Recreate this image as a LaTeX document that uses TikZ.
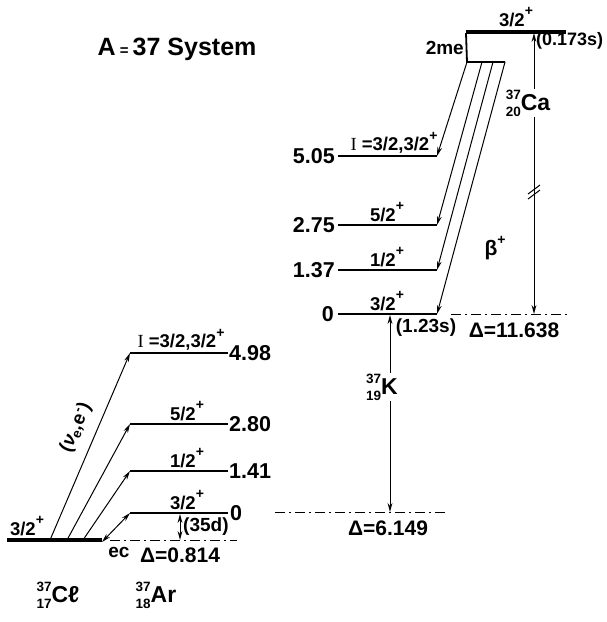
\documentclass[tikz,border=0pt]{standalone}
\usepackage{fontspec}
\setmainfont{Liberation Sans}
\newfontfamily\serifI{Liberation Serif}
\usetikzlibrary{arrows.meta,positioning}
\newcommand{\nuclide}[3]{\mbox{\fontsize{13.5}{13.5}\selectfont
  \rlap{\raisebox{11.5pt}{#1}}\raisebox{-5.5pt}{#2}}#3}
\newcommand{\parplus}{\raisebox{0.55em}{\fontsize{14}{14}\selectfont +}}
\tikzset{
 isb level/.style={line width=2.3pt},
 isb gs level/.style={line width=3.6pt},
 isb bracket/.style={line width=1.8pt},
 isb decay/.style={line width=1pt},
 isb mass/.style={line width=1pt,dash pattern=on 10pt off 4pt on 2pt off 4pt},
 isb spin/.style={font=\fontsize{18.5}{18.5}\selectfont\bfseries,inner sep=0pt},
 isb energy/.style={font=\fontsize{21.5}{21.5}\selectfont\bfseries,inner sep=1pt},
 isb note/.style={font=\fontsize{19}{19}\selectfont\bfseries,inner sep=1pt},
 isb delta/.style={font=\fontsize{21}{21}\selectfont\bfseries,inner sep=1pt},
 isb nuclide/.style={font=\fontsize{23}{23}\selectfont\bfseries,fill=white,inner sep=1pt}
}
\begin{document}
\begin{tikzpicture}[x=1pt,y=-1pt,>={Stealth[length=9pt,width=4.8pt]}]
 \useasboundingbox (0,0) rectangle (606,622);
 \node[font=\fontsize{25}{25}\selectfont\bfseries] (title) at (177,49)
   {A\,{\fontsize{15}{15}\selectfont =}\,37 System};

 % 37Cl and 37Ar
 \coordinate (cla) at (7,540);
 \coordinate (clb) at (102,540);
 \foreach \n/\y in {0/513,1/471,2/424,3/353} {
   \coordinate (ar\n a) at (130,\y);
   \coordinate (ar\n b) at (228,\y);
   \draw[isb level] (ar\n a)--(ar\n b);
 }
 \draw[isb gs level] (cla)--(clb);
 \coordinate (ec1) at (50,540);
 \coordinate (ec2) at (67,540);
 \coordinate (ec3) at (83,540);
 \coordinate (arqa) at (110,540);
 \coordinate (arqb) at (237,540);
 \coordinate (arh) at (180,514);
 \coordinate (arl) at (180,540);

 \draw[isb decay,->] (ec1)--(ar3a);
 \draw[isb decay,->] (ec2)--(ar2a);
 \draw[isb decay,->] (ec3)--(ar1a);
 \draw[isb decay,<->] ([yshift=-2pt]clb)--(ar0a);
 \draw[isb mass] (arqa)--(arqb);
 \draw[isb decay,<->] (arh)--(arl);

 \node[isb spin] (clspin) at (27,526) {3/2\parplus};
 \node[isb spin] (arspin3) at (181,340) {{\serifI\mdseries I} =3/2,3/2\parplus};
 \node[isb spin] (arspin2) at (187,411) {5/2\parplus};
 \node[isb spin] (arspin1) at (187,458) {1/2\parplus};
 \node[isb spin] (arspin0) at (187,500) {3/2\parplus};
 \node[isb energy,right=0pt of ar3b] (are3) {4.98};
 \node[isb energy,right=0pt of ar2b] (are2) {2.80};
 \node[isb energy,right=0pt of ar1b] (are1) {1.41};
 \node[isb energy,right=1pt of ar0b] (are0) {0};
 \node[isb note,anchor=west] (arlife) at (182,527) {(35d)};
 \node[isb note] (ec) at (119,552) {ec};
 \node[isb delta] (ardelta) at (180,555) {Δ=0.814};
 \node[isb note,rotate=66.6] (nue) at (76,428) {(\textit{ν}\textsubscript{e},e\textsuperscript{-})};
 \node[isb nuclide,fill=none] (cl) at (58,595) {\nuclide{37}{17}{Cℓ}};
 \node[isb nuclide,fill=none] (ar) at (156,595) {\nuclide{37}{18}{Ar}};

 % 37K and 37Ca
 \foreach \n/\y in {0/314,1/270,2/225,3/156} {
   \coordinate (k\n a) at (338,\y);
   \coordinate (k\n b) at (437,\y);
   \draw[isb level] (k\n a)--(k\n b);
 }
 \coordinate (caa) at (466,32);
 \coordinate (cab) at (566,32);
 \draw[isb gs level] (caa)--(cab);
 \coordinate (me1) at (467,62);
 \coordinate (me2) at (482,62);
 \coordinate (me3) at (493,62);
 \coordinate (me4) at (505,62);
 \draw[isb bracket] ([yshift=-1pt]caa)--(me1)--(me4);
 \draw[isb decay,->] (me1)--(k3b);
 \draw[isb decay,->] (me2)--(k2b);
 \draw[isb decay,->] (me3)--(k1b);
 \draw[isb decay,->] (me4)--(k0b);

 \coordinate (cah) at (534,33);
 \coordinate (cal) at (534,314);
 \coordinate (kh) at (390,315);
 \coordinate (kl) at (390,512);
 \coordinate (caqa) at (451,314);
 \coordinate (caqb) at (568,314);
 \coordinate (kqa) at (275,512);
 \coordinate (kqb) at (448,512);
 \draw[isb mass] (caqa)--(caqb);
 \draw[isb mass] (kqa)--(kqb);
 \draw[isb decay,<->] (cah)--(cal);
 \draw[isb decay,<->] (kh)--(kl);
 \draw[isb decay] (528,199)--(540,190);
 \draw[isb decay] (528,194)--(540,185);

 \node[isb spin] (kspin3) at (394,143) {{\serifI\mdseries I} =3/2,3/2\parplus};
 \node[isb spin] (kspin2) at (387,212) {5/2\parplus};
 \node[isb spin] (kspin1) at (387,257) {1/2\parplus};
 \node[isb spin] (kspin0) at (387,301) {3/2\parplus};
 \node[isb energy,left=2pt of k3a] (ke3) {5.05};
 \node[isb energy,left=2pt of k2a] (ke2) {2.75};
 \node[isb energy,left=2pt of k1a] (ke1) {1.37};
 \node[isb energy,left=3pt of k0a] (ke0) {0};
 \node[isb note] (klife) at (426,328) {(1.23s)};
 \node[isb delta] (kdelta) at (388,528) {Δ=6.149};
 \node[isb nuclide] (k) at (382,387) {\nuclide{37}{19}{K}};

 \node[isb spin] (caspin) at (516,17) {3/2\parplus};
 \node[isb note,anchor=east] (twome) at (465,48) {2me};
 \node[isb note,anchor=west,font=\fontsize{18}{18}\selectfont\bfseries] (calife) at (535,41) {(0.173s)};
 \node[isb nuclide] (ca) at (528,103) {\nuclide{37}{20}{Ca}};
 \node[isb delta] (cadelta) at (514,330) {Δ=11.638};
 \node[font=\fontsize{21}{21}\selectfont\bfseries] (beta) at (495,248) {β\parplus};
\end{tikzpicture}
\end{document}
